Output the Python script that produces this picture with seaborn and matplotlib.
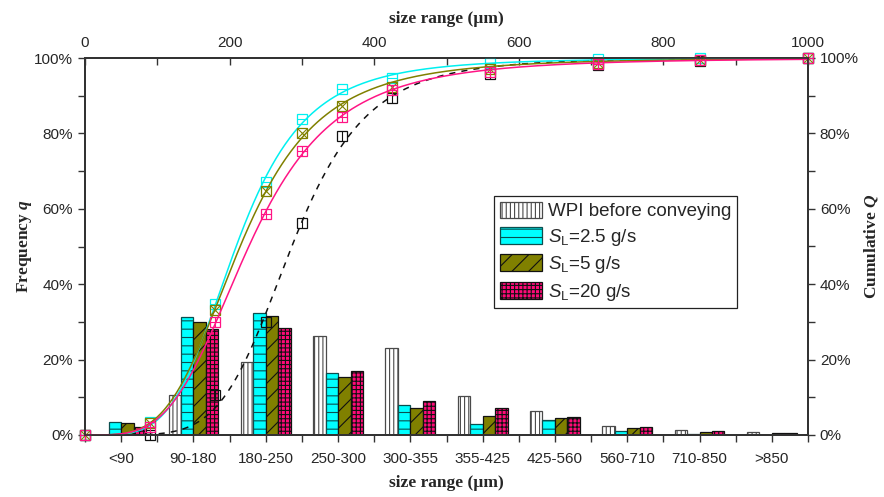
import numpy as np
import pandas as pd
import matplotlib
matplotlib.use("Agg")
import matplotlib.pyplot as plt
import seaborn as sns
from matplotlib.patches import Patch
from matplotlib.ticker import MultipleLocator, FixedLocator, PercentFormatter

# ---- data -------------------------------------------------------------
size_ranges = ["<90", "90-180", "180-250", "250-300", "300-355",
               "355-425", "425-560", "560-710", "710-850", ">850"]
upper_bounds = [90, 180, 250, 300, 355, 425, 560, 710, 850, 1000]

series_names = ["WPI before conveying",
                r"$S_\mathrm{L}$=2.5 g/s",
                r"$S_\mathrm{L}$=5 g/s",
                r"$S_\mathrm{L}$=20 g/s"]

freq_wpi = [0.0, 10.6, 19.3, 26.3, 23.0, 10.3, 6.3, 2.3, 1.2, 0.7]
freq_sl25 = [3.4, 31.4, 32.4, 16.5, 8.0, 3.0, 4.0, 1.0, 0.2, 0.1]
freq_sl5 = [3.2, 29.9, 31.5, 15.5, 7.2, 5.1, 4.6, 1.8, 0.7, 0.5]
freq_sl20 = [2.0, 28.0, 28.5, 16.9, 9.0, 7.1, 4.9, 2.0, 1.0, 0.6]

# ---- styles -----------------------------------------------------------
bar_colors = ["#FFFFFF", "#00FFFF", "#808000", "#FF0A78"]
bar_edges = ["#4a4a4a", "#0b4f4f", "#111111", "#111111"]
bar_hatches = ["||||", "--", "//", "++++"]
line_colors = ["#111111", "#00F0F0", "#808000", "#FF1585"]
line_styles = [(0, (4, 4)), "-", "-", "-"]
inner_marks = ["|", "_", "x", "+"]

sns.set_style("ticks")
plt.rcParams["font.family"] = ["Liberation Sans", "DejaVu Sans"]
plt.rcParams["mathtext.fontset"] = "custom"
plt.rcParams["mathtext.rm"] = "Liberation Sans"
plt.rcParams["mathtext.it"] = "Liberation Sans:italic"
plt.rcParams["mathtext.bf"] = "Liberation Serif:italic:bold"
plt.rcParams["hatch.linewidth"] = 0.8
plt.rcParams["axes.edgecolor"] = "#333333"
plt.rcParams["axes.linewidth"] = 1.2

label_font = dict(family="Liberation Serif", weight="bold", size=12.5)
tick_size = 11

freqs = [freq_wpi, freq_sl25, freq_sl5, freq_sl20]
df = pd.DataFrame({
    "range": np.tile(size_ranges, len(series_names)),
    "series": np.repeat(series_names, len(size_ranges)),
    "q": np.concatenate(freqs),
})

fig = plt.figure(figsize=(8.84, 4.97), dpi=100)
ax = fig.add_axes([85 / 884, 1 - 435 / 497, 723 / 884, 377 / 497])

sns.barplot(data=df, x="range", y="q", hue="series", order=size_ranges,
            hue_order=series_names, palette=bar_colors, saturation=1,
            width=0.69, gap=0, linewidth=0.9, legend=False, ax=ax)

for cont, ec, h in zip(ax.containers, bar_edges, bar_hatches):
    for bar in cont:
        bar.set_edgecolor(ec)
        bar.set_hatch(h)

ax.set_xlim(-0.5, len(size_ranges) - 0.5)
ax.set_ylim(0, 100)
ax.yaxis.set_major_locator(MultipleLocator(20))
ax.yaxis.set_minor_locator(MultipleLocator(10))
ax.yaxis.set_major_formatter(PercentFormatter(100, decimals=0))
ax.xaxis.set_minor_locator(FixedLocator(np.arange(-0.5, len(size_ranges), 1.0)))
ax.tick_params(axis="both", which="both", direction="out", labelsize=tick_size,
               color="#333333", width=1.0, length=5)
ax.tick_params(axis="x", which="major", pad=7)
ax.set_xlabel("size range (\u00b5m)", fontdict=label_font, labelpad=7)
ax.set_ylabel(r"Frequency $\mathbf{q}$", fontdict=label_font, labelpad=0)

# right-hand cumulative scale
ax_r = ax.twinx()
ax_r.set_ylim(0, 100)
ax_r.yaxis.set_major_locator(MultipleLocator(20))
ax_r.yaxis.set_minor_locator(MultipleLocator(10))
ax_r.yaxis.set_major_formatter(PercentFormatter(100, decimals=0))
ax_r.tick_params(axis="y", which="both", direction="out", length=5,
                 labelsize=tick_size, color="#333333", width=1.0)
ax_r.set_ylabel(r"Cumulative $\mathbf{Q}$", fontdict=label_font,
                rotation=90, labelpad=2)

# top size axis carrying the cumulative curves
ax_t = ax.twiny()
ax_t.set_xlim(0, 1000)
ax_t.xaxis.set_major_locator(MultipleLocator(200))
ax_t.xaxis.set_minor_locator(MultipleLocator(100))
ax_t.tick_params(axis="x", which="both", direction="in", length=5,
                 labelsize=tick_size, color="#333333", width=1.0, pad=6)
ax_t.set_xlabel("size range (\u00b5m)", fontdict=label_font, labelpad=9)


def fit_loglogistic(x, q):
    """Least-squares log-logistic fit Q = 100 / (1 + (x50/x)^k)."""
    x = np.asarray(x, float)
    q = np.asarray(q, float)
    x50_grid = np.arange(120.0, 420.0, 0.5)
    k_grid = np.arange(1.5, 10.0, 0.02)
    X50, K = np.meshgrid(x50_grid, k_grid, indexing="ij")
    pred = 100.0 / (1.0 + (X50[..., None] / x) ** K[..., None])
    sse = ((pred - q) ** 2).sum(-1)
    i = np.unravel_index(sse.argmin(), sse.shape)
    return X50[i], K[i]


xs = np.linspace(0.5, 1000, 800)
for f, lc, ls, im in zip(freqs, line_colors, line_styles, inner_marks):
    cum = np.cumsum(f)
    x50, k = fit_loglogistic(upper_bounds, cum)
    ax_t.plot(xs, 100.0 / (1.0 + (x50 / xs) ** k), color=lc, ls=ls, lw=1.1)
    px = np.concatenate([[0], upper_bounds])
    py = np.concatenate([[0], cum])
    ax_t.plot(px, py, ls="none", marker="s", ms=7.5, mfc="none", mec=lc,
              mew=0.9, clip_on=False)
    ax_t.plot(px, py, ls="none", marker=im, ms=7.5, mec=lc, mew=0.8,
              clip_on=False)

handles = [Patch(facecolor=fc, edgecolor=ec, hatch=h, linewidth=0.9)
           for fc, ec, h in zip(bar_colors, bar_edges, bar_hatches)]
leg = ax_t.legend(handles, series_names, loc="upper left",
                  bbox_to_anchor=(494 / 884, 1 - 196 / 497),
                  bbox_transform=fig.transFigure, borderaxespad=0,
                  fontsize=13.5, frameon=True, fancybox=False,
                  handlelength=2.25, handleheight=1.0, handletextpad=0.35,
                  labelspacing=0.34, borderpad=0.3)
leg.get_frame().set_edgecolor("#222222")
leg.get_frame().set_linewidth(0.9)
leg.get_frame().set_alpha(1)

fig.savefig("out.png", dpi=100)
